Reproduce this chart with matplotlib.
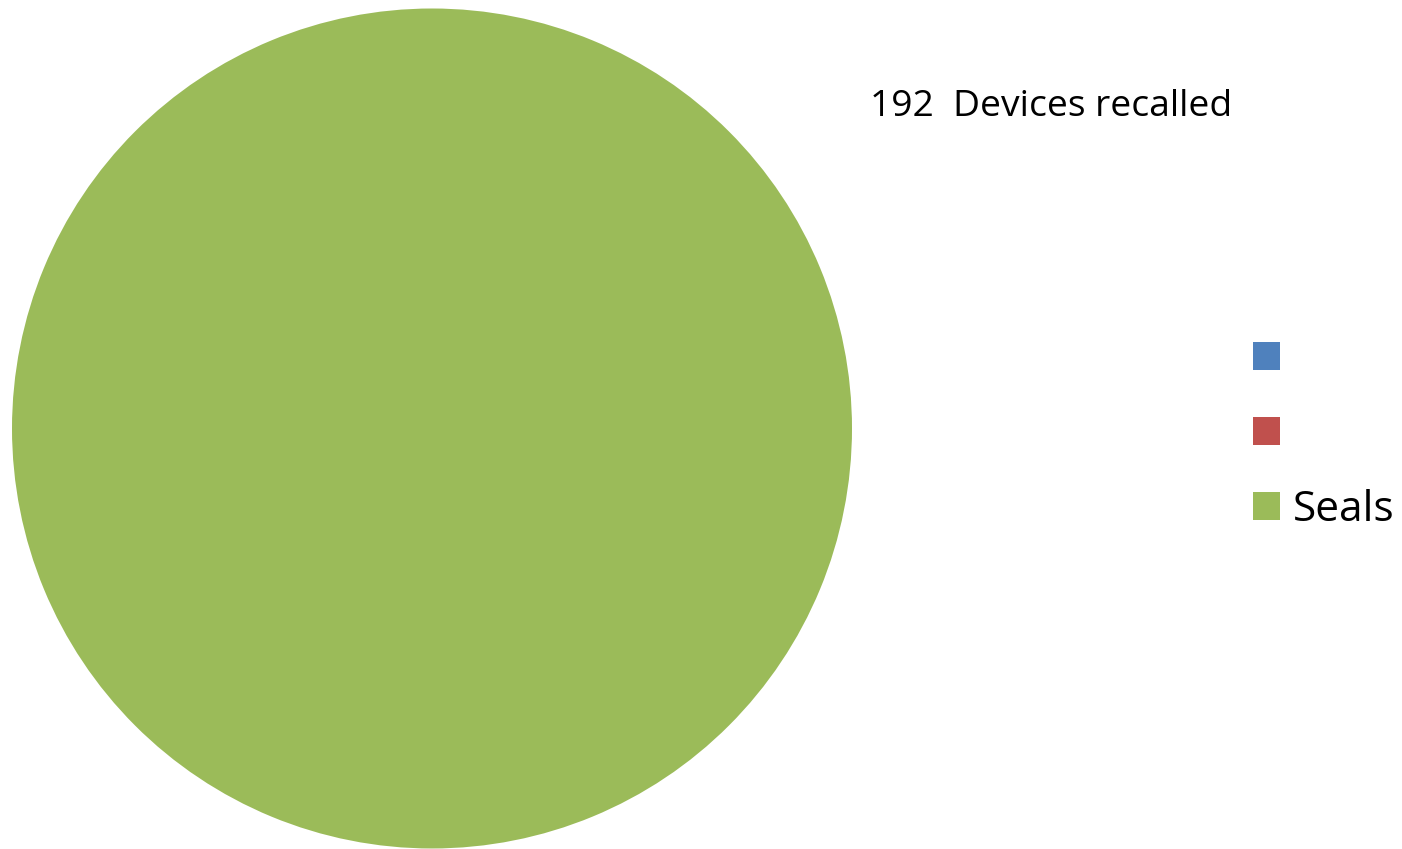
import matplotlib.pyplot as plt

# chart data
categories = ['', '', 'Seals']
counts = [0, 0, 192]
colors = ['#4F81BD', '#C0504D', '#9BBB59']
total = sum(counts)
title = '%d  Devices recalled' % total

plt.rcParams['font.family'] = ['Open Sans', 'DejaVu Sans']

W, H = 1402, 849
fig = plt.figure(figsize=(W / 100, H / 100), dpi=100)

# pie axes placed in pixel terms: circle centre ~(432, 428), radius ~420
ax = fig.add_axes([12 / W, (H - 848.5) / H, 840 / W, 840 / H])
wedges, _ = ax.pie(counts, colors=colors, startangle=90, counterclock=False,
                   radius=1, wedgeprops=dict(linewidth=0))
ax.set_xlim(-1, 1)
ax.set_ylim(-1, 1)
ax.set_aspect('equal')
ax.axis('off')

fig.text(870 / W, 1 - 107 / H, title, fontsize=26.8, va='center', ha='left')

leg = fig.legend(wedges, categories, loc='center left',
                 bbox_to_anchor=(1232 / W, 1 - 435 / H),
                 frameon=False, fontsize=30.5,
                 handlelength=0.64, handleheight=0.64,
                 handletextpad=0.3, labelspacing=0.77, borderpad=0)

fig.savefig('out.png', dpi=100)
